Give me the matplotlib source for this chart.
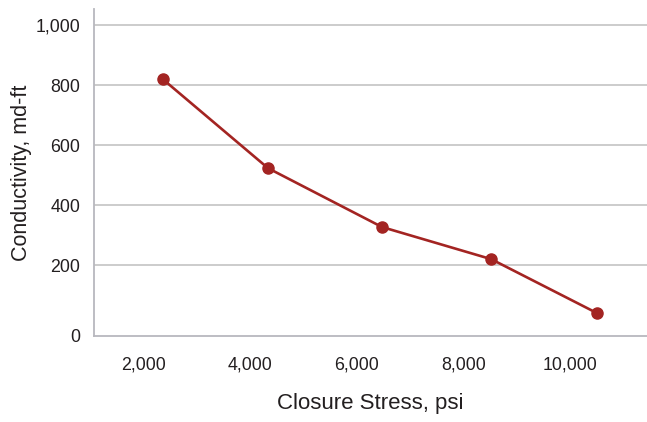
import matplotlib
matplotlib.use("Agg")
import matplotlib.pyplot as plt
from matplotlib import font_manager

# Data
closure_stress = [2350, 4330, 6470, 8520, 10510]      # psi
conductivity = [820, 523, 327, 220, 40]              # md-ft
x_ticks = [2000, 4000, 6000, 8000, 10000]
x_tick_labels = ["2,000", "4,000", "6,000", "8,000", "10,000"]
y_bottom = -36
y_ticks = [y_bottom, 200, 400, 600, 800, 1000]
y_tick_labels = ["0", "200", "400", "600", "800", "1,000"]

names = {f.name for f in font_manager.fontManager.ttflist}
tick_family = ["Liberation Sans Narrow", "Liberation Sans"] if "Liberation Sans Narrow" in names else ["Liberation Sans"]
tick_size = 14 if "Liberation Sans Narrow" in names else 12.8
plt.rcParams["font.family"] = ["Liberation Sans", "DejaVu Sans"]

text_color = "#231F20"
line_color = "#A32422"

fig = plt.figure(figsize=(6.47, 4.22), dpi=100)
ax = fig.add_axes([94 / 647, 1 - 336 / 422, 1 - 94 / 647, (336 - 9) / 422])

ax.plot(closure_stress, conductivity, color=line_color, linewidth=1.9,
        marker="o", markersize=8, markerfacecolor=line_color,
        markeredgecolor=line_color, zorder=3)

ax.set_xlim(-37.5 / 53.25 * 1000 + 94 / 53.25 * 1000, (647 - 37.5) / 53.25 * 1000)
ax.set_ylim(y_bottom, 1000 + 16 / 0.3)

ax.set_xticks(x_ticks)
ax.set_xticklabels(x_tick_labels, family=tick_family, fontsize=tick_size, color=text_color)
ax.set_yticks(y_ticks)
ax.set_yticklabels(y_tick_labels, family=tick_family, fontsize=tick_size, color=text_color)
ax.tick_params(axis="both", length=0)
ax.tick_params(axis="y", pad=10)
ax.tick_params(axis="x", pad=15)

ax.yaxis.grid(True, color="#C8C8C8", linewidth=1.3)
ax.set_axisbelow(True)
for g in ax.yaxis.get_gridlines()[:1]:
    g.set_visible(False)

for s in ["top", "right"]:
    ax.spines[s].set_visible(False)
ax.spines["left"].set_color("#B8B8BE")
ax.spines["bottom"].set_color("#B8B8BE")
ax.spines["left"].set_linewidth(1.3)
ax.spines["bottom"].set_linewidth(1.3)

ax.set_xlabel("Closure Stress, psi", fontsize=16, color=text_color)
ax.set_ylabel("Conductivity, md-ft", fontsize=15.5, color=text_color)
ax.xaxis.set_label_coords(0.5, -0.174)
ax.yaxis.set_label_coords(-0.113, 0.5)

fig.savefig("out.png", dpi=100)
